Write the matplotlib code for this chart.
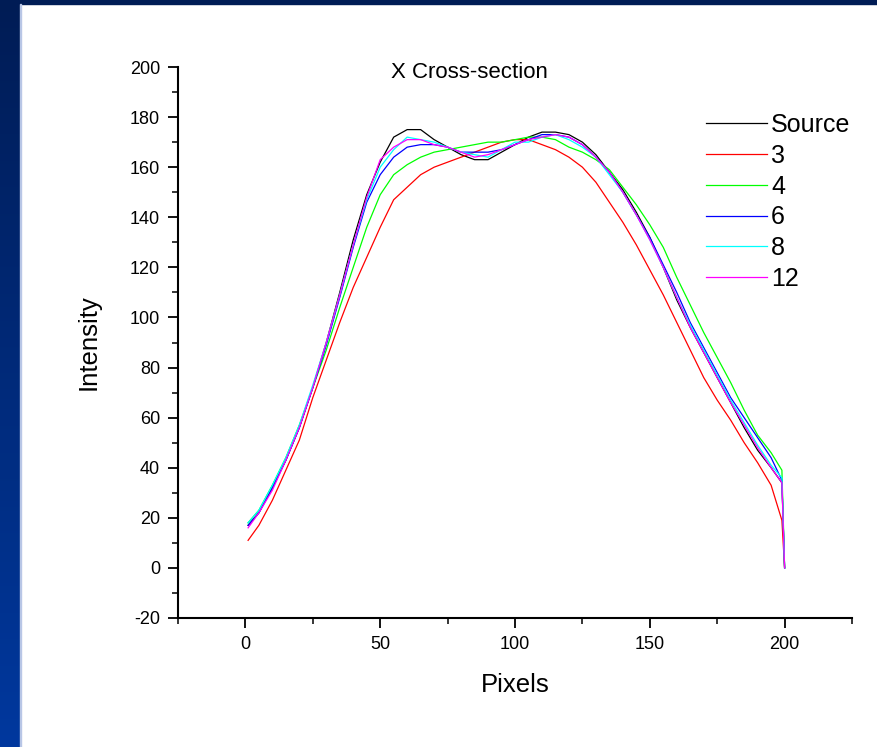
import numpy as np
import matplotlib
matplotlib.use("Agg")
import matplotlib.pyplot as plt
from matplotlib.patches import Rectangle
from matplotlib.ticker import MultipleLocator

plt.rcParams["font.family"] = ["Liberation Sans", "DejaVu Sans"]
plt.rcParams["axes.unicode_minus"] = False

# pixel positions along the cross-section (last point = edge drop)
PIXELS = [1, 5, 10, 15, 20, 25, 30, 35, 40, 45, 50, 55, 60, 65, 70, 75, 80, 85, 90, 95,
          100, 105, 110, 115, 120, 125, 130, 135, 140, 145, 150, 155, 160, 165, 170, 175,
          180, 185, 190, 195, 199, 200]

source = [17, 22, 32, 43, 56, 72, 90, 110, 131, 149, 162, 172, 175, 175, 171, 168, 165, 163, 163, 166,
          169, 172, 174, 174, 173, 170, 165, 158, 151, 142, 132, 120, 107, 96, 86, 76,
          66, 56, 47, 40, 34, 0]
s3 = [11, 17, 27, 39, 51, 68, 83, 98, 112, 124, 136, 147, 152, 157, 160, 162, 164, 166, 168, 170,
      171, 171, 169, 167, 164, 160, 154, 146, 138, 129, 119, 109, 98, 87, 76, 67,
      59, 50, 42, 33, 19, 0]
s4 = [18, 23, 33, 44, 57, 72, 87, 104, 120, 136, 149, 157, 161, 164, 166, 167, 168, 169, 170, 170,
      171, 172, 172, 171, 168, 166, 163, 159, 152, 145, 137, 128, 116, 105, 94, 84,
      74, 63, 53, 46, 39, 0]
s6 = [17, 22, 32, 43, 56, 72, 89, 108, 128, 146, 157, 164, 168, 169, 169, 168, 166, 166, 166, 167,
      169, 171, 173, 173, 172, 169, 164, 158, 150, 141, 132, 121, 110, 98, 88, 78,
      68, 60, 52, 44, 35, 0]
s8 = [18, 23, 33, 44, 57, 73, 90, 109, 129, 147, 160, 167, 172, 171, 170, 168, 166, 165, 164, 167,
      170, 170, 172, 173, 171, 168, 164, 157, 150, 141, 131, 120, 108, 97, 87, 77,
      67, 58, 49, 41, 36, 0]
s12 = [16, 22, 31, 43, 56, 72, 90, 109, 129, 148, 163, 168, 171, 171, 169, 168, 166, 164, 165, 167,
       169, 171, 172, 173, 172, 169, 164, 158, 150, 141, 131, 120, 108, 96, 86, 76,
       66, 57, 48, 40, 34, 0]

SERIES = [("Source", source, "#000000"), ("3", s3, "#ff0000"), ("4", s4, "#00ff00"),
          ("6", s6, "#0000ff"), ("8", s8, "#00ffff"), ("12", s12, "#ff00ff")]

fig = plt.figure(figsize=(8.77, 7.47), dpi=100, facecolor="white")

# blue slide frame: gradient strip on the left, band on top
bg = fig.add_axes([0, 0, 20 / 877, 1])
grad = np.linspace(0, 1, 256).reshape(-1, 1)
bg.imshow(grad, aspect="auto", extent=[0, 1, 0, 1], origin="upper",
          cmap=matplotlib.colors.LinearSegmentedColormap.from_list("b", ["#001c55", "#00389e"]))
bg.axis("off")
fig.patches.append(Rectangle((0, 1 - 4 / 747), 1, 4 / 747, transform=fig.transFigure,
                             color="#001c55", zorder=5))
fig.patches.append(Rectangle((19.5 / 877, 0), 1 / 877, 1 - 4 / 747, transform=fig.transFigure,
                             color="#b8c6e6", zorder=5))

ax = fig.add_axes([178 / 877, (747 - 618) / 747, (852 - 178) / 877, (618 - 67) / 747])
for name, vals, c in SERIES:
    ax.plot(PIXELS, vals, color=c, lw=0.9, label=name)

ax.set_xlim(-25, 225)
ax.set_ylim(-20, 200)
ax.xaxis.set_major_locator(MultipleLocator(50))
ax.xaxis.set_minor_locator(MultipleLocator(25))
ax.yaxis.set_major_locator(MultipleLocator(20))
ax.yaxis.set_minor_locator(MultipleLocator(10))
for s in ["top", "right"]:
    ax.spines[s].set_visible(False)
for s in ["left", "bottom"]:
    ax.spines[s].set_linewidth(1.5)
ax.tick_params(which="major", direction="out", length=7, width=1.3, labelsize=13, pad=6)
ax.tick_params(which="minor", direction="out", length=4, width=1.1)

ax.set_xlabel("Pixels", fontsize=18.5, labelpad=14)
ax.set_ylabel("Intensity", fontsize=18.5, labelpad=21)
ax.text(0.433, 0.99, "X Cross-section", transform=ax.transAxes, fontsize=16,
        ha="center", va="center")

ax.legend(loc="upper left", bbox_to_anchor=(706 / 877, 1 - 113 / 747),
          bbox_transform=fig.transFigure, frameon=False, fontsize=18,
          borderaxespad=0, borderpad=0, handlelength=2.45, handletextpad=0.15,
          labelspacing=0.27)

fig.savefig("out.png", dpi=100, facecolor="white")
